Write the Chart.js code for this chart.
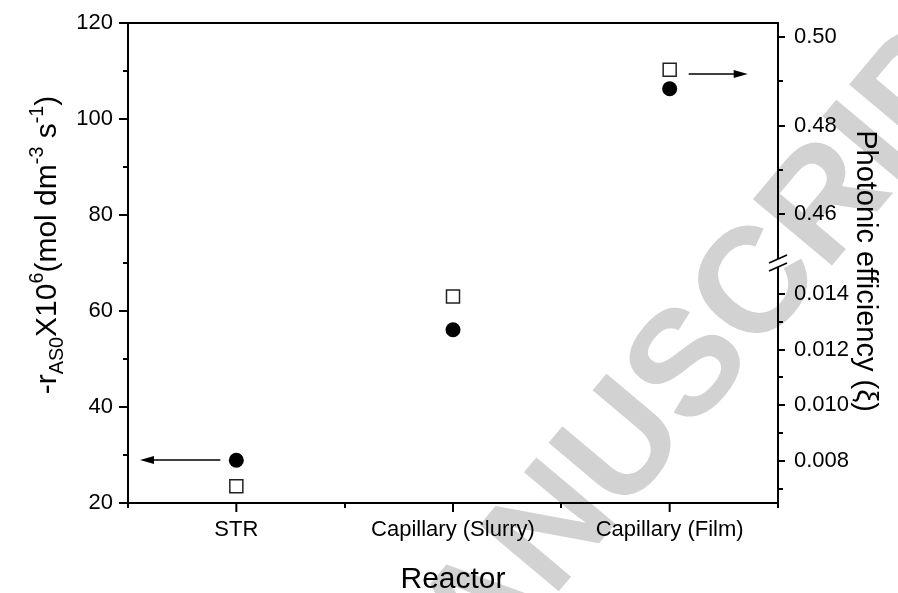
<!DOCTYPE html>
<html>
<head>
<meta charset="utf-8">
<title>Reactor comparison</title>
<script src="https://cdn.jsdelivr.net/npm/chart.js@4.4.1/dist/chart.umd.min.js"></script>
<style>
  html, body { margin: 0; padding: 0; background: #fff; }
  #wrap { width: 898px; height: 593px; }
</style>
</head>
<body>
<div id="wrap"><canvas id="chart" width="898" height="593"></canvas></div>
<script>
// values
const reactors = ["STR", "Capillary (Slurry)", "Capillary (Film)"];
const rateAS0 = [28.9, 56.1, 106.3];        // -r_AS0 x10^6, left axis (filled circles)
const effLow = [0.0071, 0.0139, null];      // photonic efficiency, lower segment (open squares)
const effHigh = [null, null, 0.4926];       // photonic efficiency, upper segment

const rateTicks = [20, 40, 60, 80, 100, 120];
const rateMinor = [30, 50, 70, 90, 110];
const effHighTicks = [0.46, 0.48, 0.50];
const effHighMinor = [0.47, 0.49];
const effLowTicks = [0.008, 0.010, 0.012, 0.014];
const effLowMinor = [0.007, 0.009, 0.011, 0.013];

const FONT = 'Arial, "Liberation Sans", sans-serif';

function drawRich(ctx, parts, cx, cy, angle, size) {
  ctx.save();
  ctx.translate(cx, cy);
  ctx.rotate(angle);
  const small = size * 0.66;
  let total = 0;
  parts.forEach(p => {
    ctx.font = `${p.sub || p.sup ? small : size}px ${FONT}`;
    p.w = ctx.measureText(p.t).width;
    total += p.w;
  });
  let x = -total / 2;
  ctx.textAlign = "left";
  ctx.textBaseline = "alphabetic";
  ctx.fillStyle = "#000";
  const base = size * 0.36;
  parts.forEach(p => {
    ctx.font = `${p.sub || p.sup ? small : size}px ${FONT}`;
    let dy = base;
    if (p.sub) dy += size * 0.24;
    if (p.sup) dy -= size * 0.42;
    ctx.fillText(p.t, x, dy);
    x += p.w;
  });
  ctx.restore();
}

function arrow(ctx, x1, y, x2) {
  const dir = Math.sign(x2 - x1);
  ctx.beginPath();
  ctx.moveTo(x1, y);
  ctx.lineTo(x2 - dir * 10, y);
  ctx.stroke();
  ctx.beginPath();
  ctx.moveTo(x2, y);
  ctx.lineTo(x2 - dir * 14, y - 4);
  ctx.lineTo(x2 - dir * 14, y + 4);
  ctx.closePath();
  ctx.fill();
}

// vertical axes: keep the label overflow out of the layout so the plot top sits at the padding
const noOverflow = s => { s.paddingTop = 0; s.paddingBottom = 0; };

const decorations = {
  id: "decorations",
  beforeDraw(chart) {
    // faint "ACCEPTED MANUSCRIPT" watermark behind everything
    const ctx = chart.ctx;
    ctx.save();
    ctx.translate(692, 368);
    ctx.rotate(-50 * Math.PI / 180);
    ctx.font = `bold 150px ${FONT}`;
    ctx.fillStyle = "#d2d2d2";
    ctx.textBaseline = "middle";
    ctx.textAlign = "left";
    const w1 = ctx.measureText("ACCEPTED ").width;
    const w2 = ctx.measureText("MANUSCRIPT").width;
    ctx.fillText("ACCEPTED MANUSCRIPT", -(w1 + w2 / 2), 0);
    ctx.restore();
  },
  afterDraw(chart) {
    const ctx = chart.ctx;
    const { x, y, yTop, yBot } = chart.scales;
    const area = chart.chartArea;
    ctx.save();
    ctx.strokeStyle = "#000";
    ctx.fillStyle = "#000";
    ctx.lineWidth = 2;

    // top frame
    ctx.beginPath();
    ctx.moveTo(area.left - 1, area.top);
    ctx.lineTo(area.right + 1, area.top);
    ctx.stroke();

    const hTick = (scale, vals, xs, len) => vals.forEach(v => {
      const p = Math.round(scale.getPixelForValue(v));
      ctx.beginPath(); ctx.moveTo(xs, p); ctx.lineTo(xs + len, p); ctx.stroke();
    });
    hTick(y, rateTicks, area.left, -9);
    hTick(y, rateMinor, area.left, -5);
    hTick(yTop, effHighTicks, area.right, 7);
    hTick(yTop, effHighMinor, area.right, 5);
    hTick(yBot, effLowTicks, area.right, 7);
    hTick(yBot, effLowMinor, area.right, 5);

    // category ticks on x, with minor marks at the boundaries
    for (let i = 0; i < reactors.length; i++) {
      const p = x.getPixelForValue(i);
      ctx.beginPath(); ctx.moveTo(p, area.bottom); ctx.lineTo(p, area.bottom + 9); ctx.stroke();
    }
    for (let i = -0.5; i <= reactors.length - 0.5; i += 1) {
      const p = Math.round(x.getPixelForValue(i));
      ctx.beginPath(); ctx.moveTo(p, area.bottom); ctx.lineTo(p, area.bottom + 5); ctx.stroke();
    }

    // axis break on the right axis
    const yb = yBot.top;
    ctx.lineWidth = 1.6;
    ctx.fillStyle = "#fff";
    ctx.fillRect(area.right - 2, yb - 4, 4, 8);
    [-4, 4].forEach(d => {
      ctx.beginPath();
      ctx.moveTo(area.right - 9, yb + d + 4);
      ctx.lineTo(area.right + 9, yb + d - 4);
      ctx.stroke();
    });

    // arrows pointing to the axis each series belongs to
    ctx.fillStyle = "#000";
    ctx.lineWidth = 1.5;
    const ya = Math.round(y.getPixelForValue(rateAS0[0]));
    arrow(ctx, x.getPixelForValue(0) - 16, ya, area.left + 12);
    const yf = Math.round(yTop.getPixelForValue(effHigh[2])) + 4;
    arrow(ctx, x.getPixelForValue(2) + 19, yf, x.getPixelForValue(2) + 78);

    // axis titles
    drawRich(ctx, [
      { t: "-r" }, { t: "AS0", sub: true }, { t: "X10" }, { t: "6", sup: true },
      { t: "(mol dm" }, { t: "-3", sup: true }, { t: " s" }, { t: "-1", sup: true }, { t: ")" }
    ], 45, 245, -Math.PI / 2, 30);
    drawRich(ctx, [{ t: "Photonic efficiency (\u03BE)" }], 867, 271, Math.PI / 2, 29);
    drawRich(ctx, [{ t: "Reactor" }], (area.left + area.right) / 2, 577, 0, 30);
    ctx.restore();
  }
};

const tickFont = { family: FONT, size: 22 };

new Chart(document.getElementById("chart"), {
  type: "line",
  data: {
    labels: reactors,
    datasets: [
      {
        label: "rate", data: rateAS0, yAxisID: "y", showLine: false,
        pointStyle: "circle", pointRadius: 7.5,
        pointBackgroundColor: "#000", pointBorderColor: "#000", pointBorderWidth: 0
      },
      {
        label: "efficiency (low)", data: effLow, yAxisID: "yBot", showLine: false,
        pointStyle: "rect", pointRadius: 9.2,
        pointBackgroundColor: "#fff", pointBorderColor: "#222", pointBorderWidth: 1.5
      },
      {
        label: "efficiency (high)", data: effHigh, yAxisID: "yTop", showLine: false,
        pointStyle: "rect", pointRadius: 9.2,
        pointBackgroundColor: "#fff", pointBorderColor: "#222", pointBorderWidth: 1.5
      }
    ]
  },
  options: {
    responsive: false,
    animation: false,
    devicePixelRatio: 1,
    layout: { padding: { top: 23, right: 0, left: 0, bottom: 0 } },
    plugins: { legend: { display: false }, tooltip: { enabled: false } },
    scales: {
      x: {
        type: "category",
        offset: true,
        grid: { display: false, drawTicks: false },
        border: { color: "#000", width: 2 },
        ticks: { font: tickFont, color: "#000", padding: 14, maxRotation: 0 },
        afterFit: s => { s.height = 90; s.paddingLeft = 0; s.paddingRight = 0; }
      },
      y: {
        position: "left",
        min: 20, max: 120,
        grid: { display: false, drawTicks: false },
        border: { color: "#000", width: 2 },
        ticks: { font: tickFont, color: "#000", padding: 15 },
        afterBuildTicks: s => { s.ticks = rateTicks.map(v => ({ value: v })); },
        afterFit: s => { s.width = 128; noOverflow(s); }
      },
      yTop: {
        position: "right",
        stack: "eff", stackWeight: 1,
        min: 0.4489, max: 0.5032,
        grid: { display: false, drawTicks: false },
        border: { color: "#000", width: 2 },
        ticks: { font: tickFont, color: "#000", padding: 16, callback: v => v.toFixed(2) },
        afterBuildTicks: s => { s.ticks = effHighTicks.map(v => ({ value: v })); },
        afterFit: s => { s.width = 120; noOverflow(s); }
      },
      yBot: {
        position: "right",
        stack: "eff", stackWeight: 1,
        min: 0.0065, max: 0.0151,
        grid: { display: false, drawTicks: false },
        border: { color: "#000", width: 2 },
        ticks: { font: tickFont, color: "#000", padding: 16, callback: v => v.toFixed(3) },
        afterBuildTicks: s => { s.ticks = effLowTicks.map(v => ({ value: v })); },
        afterFit: s => { s.width = 120; noOverflow(s); }
      }
    }
  },
  plugins: [decorations]
});
</script>
</body>
</html>
